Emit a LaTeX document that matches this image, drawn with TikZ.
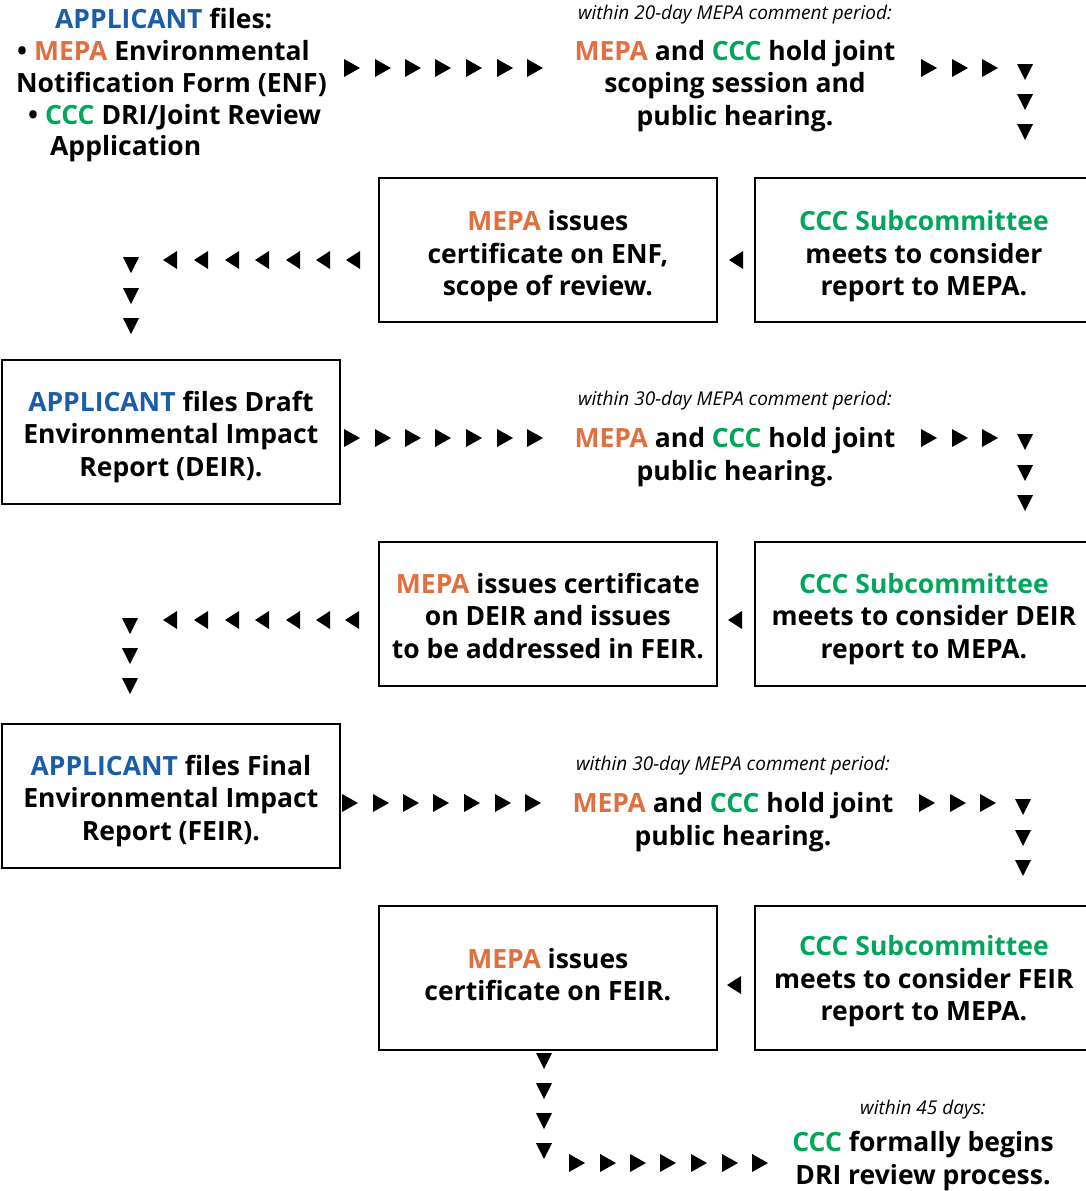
\documentclass[tikz,border=0pt]{standalone}
\usepackage{fontspec}
\setmainfont{Open Sans}
\definecolor{mblue}{HTML}{1B5DA6}
\definecolor{morange}{HTML}{E07040}
\definecolor{mgreen}{HTML}{00A65A}
\newcommand\Mepa{\textcolor{morange}{MEPA}}
\newcommand\Ccc{\textcolor{mgreen}{CCC}}
\newcommand\Appl{\textcolor{mblue}{APPLICANT}}
\tikzset{
  box/.style={draw, line width=1.8pt, minimum width=338pt, minimum height=144pt, inner sep=0pt, anchor=north west},
  txt/.style={inner sep=0pt, align=center, font=\fontsize{26.5}{32.5}\selectfont\bfseries},
  lft/.style={inner sep=0pt, anchor=base west, font=\fontsize{26.5}{32.5}\selectfont\bfseries},
  note/.style={inner sep=0pt, font=\fontsize{19}{22}\selectfont\itshape},
}
\newcommand\RT[2]{\fill (#1-8,#2-9) -- (#1+8,#2) -- (#1-8,#2+9) -- cycle;}
\newcommand\LT[2]{\fill (#1+7,#2-9) -- (#1-7,#2) -- (#1+7,#2+9) -- cycle;}
\newcommand\DT[2]{\fill (#1-8,#2-8) -- (#1+8,#2-8) -- (#1,#2+8) -- cycle;}
\begin{document}
\begin{tikzpicture}[x=1pt,y=-1pt]
\useasboundingbox (0,0) rectangle (1086,1191);
\clip (0,0) rectangle (1086,1191);
% top-left block
\node[lft] (l1) at (55,28) {\Appl{} files:};
\node[lft] (l2) at (17,60) {• \Mepa{} Environmental};
\node[lft] (l3) at (16,92) {Notification Form (ENF)};
\node[lft] (l4) at (28,124) {• \Ccc{} DRI/Joint Review};
\node[lft] (l5) at (50,155) {Application};
% top middle
\node[note] (n1) at (735,15) {within 20-day MEPA comment period:};
\node[txt] (t1) at (735,86) {\Mepa{} and \Ccc{} hold joint\\scoping session and\\public hearing.};
% boxes
\node[box] (A) at (378,177) {};
\node[txt] (At) at ([yshift=-6.5pt]A.center) {\Mepa{} issues\\certificate on ENF,\\scope of review.};
\node[box] (B) at (754,177) {};
\node[txt] (Bt) at ([yshift=-6.5pt]B.center) {\textcolor{mgreen}{CCC Subcommittee}\\meets to consider\\report to MEPA.};
\node[box] (C) at (1,359) {};
\node[txt] (Ct) at ([yshift=-5pt]C.center) {\Appl{} files Draft\\Environmental Impact\\Report (DEIR).};
\node[note] (n2) at (735,401) {within 30-day MEPA comment period:};
\node[txt] (t2) at (735,457) {\Mepa{} and \Ccc{} hold joint\\public hearing.};
\node[box] (D) at (378,541) {};
\node[txt] (Dt) at ([yshift=-2pt]D.center) {\Mepa{} issues certificate\\on DEIR and issues\\to be addressed in FEIR.};
\node[box] (E) at (754,541) {};
\node[txt] (Et) at ([yshift=-5pt]E.center) {\textcolor{mgreen}{CCC Subcommittee}\\meets to consider DEIR\\report to MEPA.};
\node[box] (F) at (1,723) {};
\node[txt] (Ft) at ([yshift=-5pt]F.center) {\Appl{} files Final\\Environmental Impact\\Report (FEIR).};
\node[note] (n3) at (733,766) {within 30-day MEPA comment period:};
\node[txt] (t3) at (733,822) {\Mepa{} and \Ccc{} hold joint\\public hearing.};
\node[box] (G) at (378,905) {};
\node[txt] (Gt) at ([yshift=3.5pt]G.center) {\Mepa{} issues\\certificate on FEIR.};
\node[box] (H) at (754,905) {};
\node[txt] (Ht) at ([yshift=-3.5pt]H.center) {\textcolor{mgreen}{CCC Subcommittee}\\meets to consider FEIR\\report to MEPA.};
\node[note] (n4) at (923,1110) {within 45 days:};
\node[txt] (t4) at (923,1161) {\Ccc{} formally begins\\DRI review process.};
% triangle chains
\foreach \x in {352,383,413,443,474,505,535} {\RT{\x}{68}}
\foreach \x in {929,960,990} {\RT{\x}{68}}
\foreach \y in {72,102,132} {\DT{1025}{\y}}
\foreach \x in {170,201,232,262,293,323,353} {\LT{\x}{260}}
\LT{736}{260}
\foreach \y in {265,296,326} {\DT{131}{\y}}
\foreach \x in {352,383,413,443,474,505,535} {\RT{\x}{438}}
\foreach \x in {929,960,990} {\RT{\x}{438}}
\foreach \y in {442,473,503} {\DT{1025}{\y}}
\foreach \x in {170,201,232,262,293,323,352} {\LT{\x}{620}}
\LT{735}{620}
\foreach \y in {626,656,686} {\DT{130}{\y}}
\foreach \x in {350,381,411,441,472,503,533} {\RT{\x}{803}}
\foreach \x in {927,958,988} {\RT{\x}{803}}
\foreach \y in {807,838,868} {\DT{1023}{\y}}
\LT{734}{985}
\foreach \y in {1061,1091,1121,1151} {\DT{544}{\y}}
\foreach \x in {577,608,638,668,699,730,760} {\RT{\x}{1163}}
\end{tikzpicture}
\end{document}
